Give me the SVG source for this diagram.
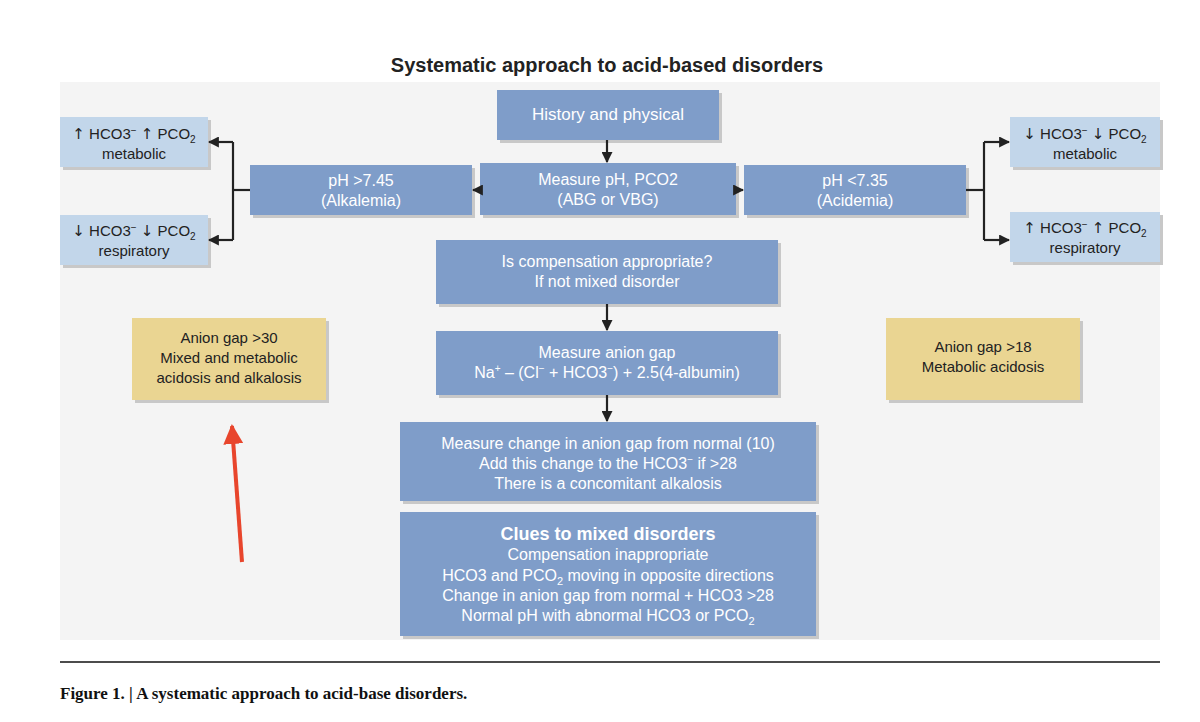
<svg xmlns="http://www.w3.org/2000/svg" width="1200" height="722" viewBox="0 0 1200 722">
<defs>
<style>
text{font-family:"Liberation Sans",Arial,sans-serif;text-anchor:middle}
.w{fill:#fff;font-size:16px}
.k{fill:#222;font-size:15px}
.ar{font-family:"DejaVu Sans",sans-serif;font-size:15px}
.b{fill:#7f9dc9}
.lb{fill:#c2d6ea}
.y{fill:#ead592}
.sh{fill:#c8c8c8}
.c{stroke:#222;stroke-width:2.2;fill:none}
</style>
<marker id="a" viewBox="0 0 10 10" refX="9" refY="5" markerWidth="5" markerHeight="5" orient="auto"><path d="M0,0L10,5L0,10z" fill="#222"/></marker>
<marker id="r" viewBox="0 0 10 10" refX="9" refY="5" markerWidth="5" markerHeight="5" orient="auto"><path d="M0,0L10,5L0,10z" fill="#e8452c"/></marker>
</defs>
<rect width="1200" height="722" fill="#fff"/>
<text x="607" y="72" style="font-size:20px;font-weight:bold;fill:#222">Systematic approach to acid-based disorders</text>
<rect x="60" y="82" width="1100" height="558" fill="#f4f4f4"/>
<g id="history"><rect class="sh" x="500" y="93" width="222" height="50"/><rect class="b" x="497" y="90" width="222" height="50"/><text class="w" x="608" y="120" style="font-size:17px">History and physical</text></g>
<g id="measure-ph"><rect class="sh" x="483" y="166" width="256" height="52"/><rect class="b" x="480" y="163" width="256" height="52"/><text class="w" x="608" y="185">Measure pH, PCO2</text><text class="w" x="608" y="205">(ABG or VBG)</text></g>
<g id="alkalemia"><rect class="sh" x="253" y="168" width="222" height="50"/><rect class="b" x="250" y="165" width="222" height="50"/><text class="w" x="361" y="186">pH &gt;7.45</text><text class="w" x="361" y="206">(Alkalemia)</text></g>
<g id="acidemia"><rect class="sh" x="747" y="168" width="222" height="50"/><rect class="b" x="744" y="165" width="222" height="50"/><text class="w" x="855" y="186">pH &lt;7.35</text><text class="w" x="855" y="206">(Acidemia)</text></g>
<g id="alk-metabolic"><rect class="sh" x="63" y="120" width="148" height="50"/><rect class="lb" x="60" y="117" width="148" height="50"/><text class="k" x="134" y="139"><tspan class="ar">↑</tspan> HCO3<tspan dy="-5" font-size="10">−</tspan><tspan dy="5"> </tspan><tspan class="ar">↑</tspan> PCO<tspan dy="4" font-size="10">2</tspan></text><text class="k" x="134" y="159">metabolic</text></g>
<g id="alk-respiratory"><rect class="sh" x="63" y="218" width="148" height="50"/><rect class="lb" x="60" y="215" width="148" height="50"/><text class="k" x="134" y="236"><tspan class="ar">↓</tspan> HCO3<tspan dy="-5" font-size="10">−</tspan><tspan dy="5"> </tspan><tspan class="ar">↓</tspan> PCO<tspan dy="4" font-size="10">2</tspan></text><text class="k" x="134" y="256">respiratory</text></g>
<g id="acid-metabolic"><rect class="sh" x="1013" y="120" width="150" height="50"/><rect class="lb" x="1010" y="117" width="150" height="50"/><text class="k" x="1085" y="139"><tspan class="ar">↓</tspan> HCO3<tspan dy="-5" font-size="10">−</tspan><tspan dy="5"> </tspan><tspan class="ar">↓</tspan> PCO<tspan dy="4" font-size="10">2</tspan></text><text class="k" x="1085" y="159">metabolic</text></g>
<g id="acid-respiratory"><rect class="sh" x="1013" y="215" width="150" height="50"/><rect class="lb" x="1010" y="212" width="150" height="50"/><text class="k" x="1085" y="233"><tspan class="ar">↑</tspan> HCO3<tspan dy="-5" font-size="10">−</tspan><tspan dy="5"> </tspan><tspan class="ar">↑</tspan> PCO<tspan dy="4" font-size="10">2</tspan></text><text class="k" x="1085" y="253">respiratory</text></g>
<g id="compensation"><rect class="sh" x="439" y="243" width="342" height="64"/><rect class="b" x="436" y="240" width="342" height="64"/><text class="w" x="607" y="267">Is compensation appropriate?</text><text class="w" x="607" y="287">If not mixed disorder</text></g>
<g id="anion-gap"><rect class="sh" x="439" y="334" width="342" height="64"/><rect class="b" x="436" y="331" width="342" height="64"/><text class="w" x="607" y="358">Measure anion gap</text><text class="w" x="607" y="378">Na<tspan dy="-6" font-size="10">+</tspan><tspan dy="6"> – (Cl</tspan><tspan dy="-6" font-size="10">−</tspan><tspan dy="6"> + HCO3</tspan><tspan dy="-6" font-size="10">−</tspan><tspan dy="6">) + 2.5(4-albumin)</tspan></text></g>
<g id="change"><rect class="sh" x="403" y="425" width="416" height="79"/><rect class="b" x="400" y="422" width="416" height="79"/><text class="w" x="608" y="449">Measure change in anion gap from normal (10)</text><text class="w" x="608" y="469">Add this change to the HCO3<tspan dy="-6" font-size="10">−</tspan><tspan dy="6"> if &gt;28</tspan></text><text class="w" x="608" y="489">There is a concomitant alkalosis</text></g>
<g id="clues"><rect class="sh" x="403" y="515" width="416" height="124"/><rect class="b" x="400" y="512" width="416" height="124"/><text class="w" x="608" y="540" style="font-size:18px;font-weight:bold">Clues to mixed disorders</text><text class="w" x="608" y="560">Compensation inappropriate</text><text class="w" x="608" y="581">HCO3 and PCO<tspan dy="4" font-size="11">2</tspan><tspan dy="-4"> moving in opposite directions</tspan></text><text class="w" x="608" y="601">Change in anion gap from normal + HCO3 &gt;28</text><text class="w" x="608" y="621">Normal pH with abnormal HCO3 or PCO<tspan dy="4" font-size="11">2</tspan></text></g>
<g id="ag30"><rect class="sh" x="135" y="321" width="194" height="82"/><rect class="y" x="132" y="318" width="194" height="82"/><text class="k" x="229" y="343">Anion gap &gt;30</text><text class="k" x="229" y="363">Mixed and metabolic</text><text class="k" x="229" y="383">acidosis and alkalosis</text></g>
<g id="ag18"><rect class="sh" x="889" y="321" width="194" height="82"/><rect class="y" x="886" y="318" width="194" height="82"/><text class="k" x="983" y="352">Anion gap &gt;18</text><text class="k" x="983" y="372">Metabolic acidosis</text></g>
<g id="connectors">
<path class="c" d="M607,140V162" marker-end="url(#a)"/>
<path class="c" d="M480,190H473" marker-end="url(#a)"/>
<path class="c" d="M736,190H743" marker-end="url(#a)"/>
<path class="c" d="M250,190H233"/>
<path class="c" d="M233,142V240"/>
<path class="c" d="M233,142H209" marker-end="url(#a)"/>
<path class="c" d="M233,240H209" marker-end="url(#a)"/>
<path class="c" d="M966,190H984"/>
<path class="c" d="M984,142V240"/>
<path class="c" d="M984,142H1009" marker-end="url(#a)"/>
<path class="c" d="M984,240H1009" marker-end="url(#a)"/>
<path class="c" d="M607,304V330" marker-end="url(#a)"/>
<path class="c" d="M607,395V421" marker-end="url(#a)"/>
<path d="M242,562L232,426" stroke="#e8452c" stroke-width="4" fill="none" marker-end="url(#r)"/>
</g>
<line x1="60" y1="662" x2="1160" y2="662" stroke="#111" stroke-width="1.5"/>
<text x="60" y="699" style="font-family:'Liberation Serif',serif;font-size:17px;font-weight:bold;text-anchor:start;fill:#111">Figure 1. | A systematic approach to acid-base disorders.</text>
</svg>
